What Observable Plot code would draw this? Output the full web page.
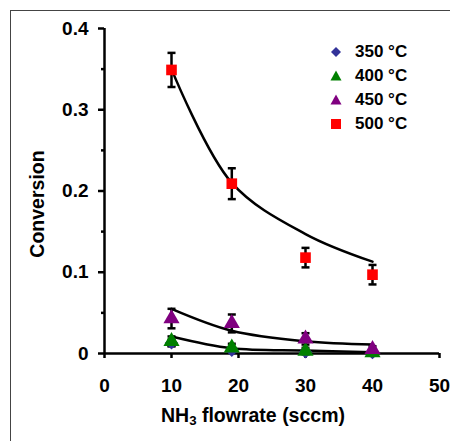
<!DOCTYPE html>
<html>
<head>
<meta charset="utf-8">
<script src="https://cdn.jsdelivr.net/npm/d3@7"></script>
<script src="https://cdn.jsdelivr.net/npm/@observablehq/plot@0.6"></script>
<style>
  html, body { margin: 0; padding: 0; background: #fff; }
  #wrap { position: relative; width: 450px; height: 441px; overflow: hidden; font-family: "Liberation Sans", Arial, sans-serif; }
  #frame { position: absolute; left: 10px; top: 10px; width: 470px; height: 470px; border: 1px solid #444; box-sizing: border-box; }
  #chart { position: absolute; left: 0; top: 0; }
  #legend { position: absolute; left: 326px; top: 40px; font-weight: bold; font-size: 17px; color: #000; }
  #legend .row { display: flex; align-items: center; height: 24px; }
  #legend svg { width: 20px; height: 20px; margin-right: 9px; }
  #xtitle { position: absolute; left: 133px; width: 240px; top: 403px; text-align: center; font-weight: bold; font-size: 19.5px; line-height: 24px; color: #000; white-space: nowrap; }
  #xtitle sub { font-size: 0.68em; vertical-align: -0.2em; line-height: 0; }
</style>
</head>
<body>
<div id="wrap">
  <div id="frame"></div>
  <div id="chart"></div>
  <div id="legend"></div>
  <div id="xtitle">NH<sub>3</sub> flowrate (sccm)</div>
</div>
<script>
// ---- data ----
const flow = [10, 19, 30, 40];
const conv350 = [0.013, 0.004, 0.002, 0.001];
const conv400 = [0.015, 0.007, 0.003, 0.001];
const conv450 = [0.043, 0.037, 0.018, 0.005];
const conv500 = [0.349, 0.209, 0.118, 0.097];
const err350 = [0.004, 0.003, 0.002, 0.002];
const err400 = [0.006, 0.005, 0.004, 0.003];
const err450 = [0.012, 0.011, 0.007, 0.004];
const err500 = [0.021, 0.019, 0.012, 0.012];
// fitted trend curves
const fitFlow = [10, 19, 30, 40];
const fit500 = [0.35, 0.21, 0.147, 0.113];
const fit450 = [0.055, 0.028, 0.015, 0.011];
const fitLow = [0.021, 0.0065, 0.0037, 0.0016];

const seriesNames = ["350 °C", "400 °C", "450 °C", "500 °C"];
const seriesColors = ["#333399", "#008000", "#800080", "#ff0000"];
const seriesSymbols = ["diamond2", "triangle", "triangle", "square"];
const seriesValues = [conv350, conv400, conv450, conv500];
const seriesErrors = [err350, err400, err450, err500];

const xTicks = [0, 10, 20, 30, 40, 50];
const yTicks = [0, 0.1, 0.2, 0.3, 0.4];
const yMinorTicks = [0.05, 0.15, 0.25, 0.35];

// ---- tables ----
const points = [];
seriesNames.forEach((name, i) => {
  flow.forEach((f, j) => {
    points.push({ series: name, x: f, y: seriesValues[i][j], lo: seriesValues[i][j] - seriesErrors[i][j], hi: seriesValues[i][j] + seriesErrors[i][j] });
  });
});
const curves = [];
[["500", fit500], ["450", fit450], ["low", fitLow]].forEach(([k, arr]) => {
  fitFlow.forEach((f, j) => curves.push({ curve: k, x: f, y: arr[j] }));
});

const capSymbol = {
  draw(context, size) {
    const w = Math.sqrt(size / Math.PI);
    context.moveTo(-w, 0);
    context.lineTo(w, 0);
  }
};

const plot = Plot.plot({
  width: 450,
  height: 441,
  marginLeft: 104,
  marginRight: 11,
  marginTop: 28,
  marginBottom: 88,
  style: { fontFamily: "'Liberation Sans', Arial, sans-serif", fontWeight: "bold", fontSize: "19px", color: "#000", background: "transparent" },
  x: { domain: [0, 50] },
  y: { domain: [0, 0.4] },
  color: { domain: seriesNames, range: seriesColors },
  symbol: { domain: seriesNames, range: seriesSymbols },
  marks: [
    Plot.axisX({ ticks: xTicks, tickSize: 5, tickPadding: 20, strokeWidth: 2.5, tickFormat: d => String(d), label: null, fontSize: 19 }),
    Plot.axisY({ ticks: yTicks, tickSize: 6, tickPadding: 10, strokeWidth: 2.5, tickFormat: d => d === 0 ? "0" : d.toFixed(1), label: null, fontSize: 19 }),
    Plot.axisY({ ticks: yMinorTicks, tickSize: 3, strokeWidth: 2.5, tickFormat: () => "", label: null }),
    Plot.ruleX([0], { stroke: "#000", strokeWidth: 2.5 }),
    Plot.ruleY([0], { stroke: "#000", strokeWidth: 2.5 }),
    Plot.line(curves, { x: "x", y: "y", z: "curve", curve: "catmull-rom", stroke: "#000", strokeWidth: 2.5 }),
    Plot.ruleX(points, { x: "x", y1: "lo", y2: "hi", stroke: "#000", strokeWidth: 2.5 }),
    Plot.dot(points, { x: "x", y: "hi", symbol: () => capSymbol, r: 4, stroke: "#000", strokeWidth: 2.5, fill: "none" }),
    Plot.dot(points, { x: "x", y: "lo", symbol: () => capSymbol, r: 4, stroke: "#000", strokeWidth: 2.5, fill: "none" }),
    Plot.dot(points, { x: "x", y: "y", symbol: "series", fill: "series", r: 6, stroke: "none" }),
    Plot.text(["Conversion"], { frameAnchor: "left", textAnchor: "middle", rotate: -90, dx: -67, dy: 13, fontSize: 19.5, fontWeight: "bold", fill: "#000" })
  ]
});
document.getElementById("chart").appendChild(plot);

// ---- legend ----
const legend = document.getElementById("legend");
const symPaths = {
  diamond2: "M10,5 L15,10 L10,15 L5,10 Z",
  triangle: "M10,4.5 L15.5,14.5 L4.5,14.5 Z",
  square: "M5,5 L15,5 L15,15 L5,15 Z"
};
seriesNames.forEach((n, i) => {
  const row = document.createElement("div");
  row.className = "row";
  row.innerHTML = `<svg viewBox="0 0 20 20"><path d="${symPaths[seriesSymbols[i]]}" fill="${seriesColors[i]}"/></svg><span>${n}</span>`;
  legend.appendChild(row);
});
</script>
</body>
</html>
